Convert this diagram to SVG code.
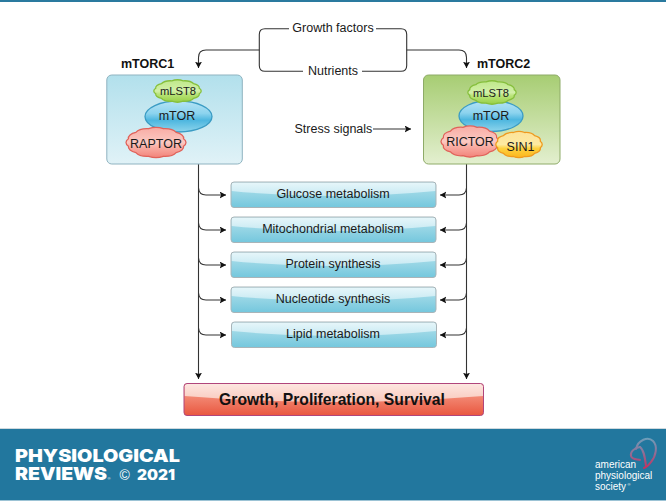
<svg xmlns="http://www.w3.org/2000/svg" xmlns:xlink="http://www.w3.org/1999/xlink" width="666" height="501" viewBox="0 0 666 501">
<style>
text{font-family:"Liberation Sans",Arial,sans-serif;fill:#1a1a1a}
.lbl{font-size:12.500px}
.mid{text-anchor:middle}
.small{font-size:11.200px}
.title{font-size:12.500px;font-weight:bold;fill:#111}
.link{fill:none;stroke:#333;stroke-width:1.100}
.arrow{marker-end:url(#tip)}
.edge{vector-effect:non-scaling-stroke;stroke-width:1.300}
.foot{fill:#fff;font-weight:900;font-family:Inter,"DejaVu Sans",sans-serif}
.apsmark{fill:none;stroke:url(#logoA);stroke-width:2;stroke-linecap:round}
.aps{font-size:10px;fill:#fff}
</style>
<defs>
<marker id="tip" markerWidth="8" markerHeight="8" refX="6.400" refY="3.500" orient="auto" markerUnits="userSpaceOnUse">
<path d="M0 0L6.500 3.500L0 7L1.500 3.500Z" fill="#111"/>
</marker>
<linearGradient id="panelBlue" x1="0" y1="0" x2="0" y2="1"><stop offset="0" stop-color="#b2e0ec"/><stop offset="1" stop-color="#e0f2f7"/></linearGradient>
<linearGradient id="panelGreen" x1="0" y1="0" x2="0" y2="1"><stop offset="0" stop-color="#a7cd73"/><stop offset="1" stop-color="#e3efcf"/></linearGradient>
<linearGradient id="barBase" x1="0" y1="0" x2="0" y2="1"><stop offset="0" stop-color="#b5e2ec"/><stop offset="1" stop-color="#74c7dd"/></linearGradient>
<linearGradient id="barGloss" x1="0" y1="0" x2="0" y2="1"><stop offset="0" stop-color="#e6f6fa"/><stop offset="1" stop-color="#c6e9f2"/></linearGradient>
<linearGradient id="redBase" x1="0" y1="0" x2="0" y2="1"><stop offset="0" stop-color="#f9a997"/><stop offset="1" stop-color="#e9573f"/></linearGradient>
<linearGradient id="redGloss" x1="0" y1="0" x2="0" y2="1"><stop offset="0" stop-color="#fde6e0"/><stop offset="1" stop-color="#f9c8bc"/></linearGradient>
<linearGradient id="cGreen" x1="0" y1="0" x2="0" y2="1"><stop offset="0" stop-color="#bfe88a"/><stop offset=".5" stop-color="#d2f0a8"/><stop offset=".65" stop-color="#b8e377"/><stop offset="1" stop-color="#97d046"/></linearGradient>
<linearGradient id="cBlue" x1="0" y1="0" x2="0" y2="1"><stop offset="0" stop-color="#b5e3f4"/><stop offset=".4" stop-color="#8cd3ee"/><stop offset=".62" stop-color="#4db6df"/><stop offset="1" stop-color="#8ed5ec"/></linearGradient>
<linearGradient id="cRed" x1="0" y1="0" x2="0" y2="1"><stop offset="0" stop-color="#f8aca4"/><stop offset=".5" stop-color="#fbc9c2"/><stop offset=".65" stop-color="#f9aea5"/><stop offset="1" stop-color="#f2837a"/></linearGradient>
<linearGradient id="cGold" x1="0" y1="0" x2="0" y2="1"><stop offset="0" stop-color="#fce39a"/><stop offset=".5" stop-color="#fdeaa0"/><stop offset=".65" stop-color="#fdd23f"/><stop offset="1" stop-color="#fbb51d"/></linearGradient>
<linearGradient id="logoA" gradientUnits="userSpaceOnUse" x1="0" y1="437" x2="0" y2="468"><stop offset="0" stop-color="#6aa2bd"/><stop offset=".5" stop-color="#8f7097"/><stop offset="1" stop-color="#c5305f"/></linearGradient>
<path id="cloud" class="edge" d="M.889 .238A.4 .4 0 0 1 .65 .65A.4 .4 0 0 1 .238 .889A.4 .4 0 0 1 -.238 .889A.4 .4 0 0 1 -.65 .65A.4 .4 0 0 1 -.889 .238A.4 .4 0 0 1 -.889 -.238A.4 .4 0 0 1 -.65 -.65A.4 .4 0 0 1 -.238 -.889A.4 .4 0 0 1 .238 -.889A.4 .4 0 0 1 .65 -.65A.4 .4 0 0 1 .889 -.238A.4 .4 0 0 1 .889 .238Z"/>
<g id="bar">
<rect x="0" y="0" width="205" height="25.500" rx="3" fill="url(#barBase)"/>
<path d="M.5 9Q102 19 204.500 9V3Q204.500 .5 202 .5H3Q.5 .5 .5 3Z" fill="url(#barGloss)"/>
<rect x="0" y="0" width="205" height="25.500" rx="3" fill="none" stroke="#a9b4b8"/>
</g>
</defs>

<rect width="666" height="501" fill="#fff"/>
<rect width="666" height="2" fill="#2a7a9f"/>

<g id="connectors">
<path class="link" d="M289 28.700H265Q259.300 28.700 259.300 34.500V65.500Q259.300 71.300 265 71.300H303"/>
<path class="link arrow" d="M259.300 50H206Q198.500 50 198.500 57.500V68"/>
<path class="link" d="M376 28.700H401Q406.700 28.700 406.700 34.500V65.500Q406.700 71.300 401 71.300H362"/>
<path class="link arrow" d="M406.700 50H459Q466.500 50 466.500 57.500V68"/>
<path class="link arrow" d="M373 129H411"/>
<path class="link arrow" d="M198.500 164V379"/>
<path class="link arrow" d="M466.500 164V379"/>
<path class="link arrow" d="M198.500 188Q199 195 206 195H226"/>
<path class="link arrow" d="M198.500 223Q199 230 206 230H226"/>
<path class="link arrow" d="M198.500 258Q199 265 206 265H226"/>
<path class="link arrow" d="M198.500 293Q199 300 206 300H226"/>
<path class="link arrow" d="M198.500 328Q199 335 206 335H226"/>
<path class="link arrow" d="M466.500 188Q466 195 459 195H440"/>
<path class="link arrow" d="M466.500 223Q466 230 459 230H440"/>
<path class="link arrow" d="M466.500 258Q466 265 459 265H440"/>
<path class="link arrow" d="M466.500 293Q466 300 459 300H440"/>
<path class="link arrow" d="M466.500 328Q466 335 459 335H440"/>
</g>

<g id="growth-factors"><text class="lbl mid" x="333" y="32">Growth factors</text></g>
<g id="nutrients"><text class="lbl mid" x="333" y="75">Nutrients</text></g>
<g id="stress-signals"><text class="lbl" x="294.500" y="133">Stress signals</text></g>

<g id="mtorc1">
<text class="title" x="121" y="68">mTORC1</text>
<rect x="106.800" y="75" width="135.500" height="89" rx="5" fill="url(#panelBlue)" stroke="#8fb3c0"/>
<ellipse cx="178.500" cy="116.500" rx="33.500" ry="15.500" fill="url(#cBlue)" stroke="#3b9cc4" stroke-width="1.300"/>
<text class="lbl mid" x="177" y="120">mTOR</text>
<use href="#cloud" transform="translate(177.500 91) scale(24.500 11.500)" fill="url(#cGreen)" stroke="#86bf3c"/>
<text class="small mid" x="178" y="95.300">mLST8</text>
<use href="#cloud" transform="translate(156 142.500) scale(31 15.500)" fill="url(#cRed)" stroke="#e0625a"/>
<text class="lbl mid" x="156" y="148">RAPTOR</text>
</g>

<g id="mtorc2">
<text class="title" x="477" y="68">mTORC2</text>
<rect x="423.500" y="75" width="136.500" height="89" rx="5" fill="url(#panelGreen)" stroke="#8eab68"/>
<ellipse cx="491" cy="116" rx="32" ry="15.500" fill="url(#cBlue)" stroke="#3b9cc4" stroke-width="1.300"/>
<text class="lbl mid" x="491" y="120">mTOR</text>
<use href="#cloud" transform="translate(492 92.500) scale(25 12)" fill="url(#cGreen)" stroke="#86bf3c"/>
<text class="small mid" x="491" y="96.500">mLST8</text>
<use href="#cloud" transform="translate(470 141.500) scale(30 16)" fill="url(#cRed)" stroke="#e0625a"/>
<text class="lbl mid" x="470" y="146">RICTOR</text>
<use href="#cloud" transform="translate(519 144.500) scale(24 13.500)" fill="url(#cGold)" stroke="#ef9a1e"/>
<text class="lbl mid" x="520.500" y="150.500">SIN1</text>
</g>

<g id="glucose"><use href="#bar" x="231" y="182"/><text class="lbl mid" x="333" y="198">Glucose metabolism</text></g>
<g id="mitochondrial"><use href="#bar" x="231" y="217"/><text class="lbl mid" x="333" y="233">Mitochondrial metabolism</text></g>
<g id="protein"><use href="#bar" x="231" y="252"/><text class="lbl mid" x="333" y="268">Protein synthesis</text></g>
<g id="nucleotide"><use href="#bar" x="231" y="287"/><text class="lbl mid" x="333" y="303">Nucleotide synthesis</text></g>
<g id="lipid"><use href="#bar" x="231.500" y="322"/><text class="lbl mid" x="333" y="338">Lipid metabolism</text></g>

<g id="outcome">
<rect x="184" y="383.500" width="299.500" height="32" rx="3" fill="url(#redBase)"/>
<path d="M184.500 396Q333 408 483 396V386.500Q483 384 480.500 384H187Q184.500 384 184.500 386.500Z" fill="url(#redGloss)"/>
<rect x="184" y="383.500" width="299.500" height="32" rx="3" fill="none" stroke="#b0457c"/>
<text class="mid" x="332" y="405" style="font-size:15.700px;font-weight:bold;fill:#111">Growth, Proliferation, Survival</text>
</g>

<g id="footer">
<rect y="429" width="666" height="72" fill="#22779e"/>
<rect y="428" width="666" height="1" fill="#cfd9de"/>
<rect y="500" width="666" height="1" fill="#9cc3d5"/>
<text class="foot" x="15" y="462" style="font-size:18px" textLength="165" lengthAdjust="spacingAndGlyphs">PHYSIOLOGICAL</text>
<text class="foot" x="15" y="480" style="font-size:18px" textLength="92" lengthAdjust="spacingAndGlyphs">REVIEWS</text>
<text x="107.500" y="480" style="font-size:4px;fill:#fff">®</text>
<text x="119.500" y="480" style="font-size:14px;fill:#fff">©</text>
<text class="foot" x="137" y="480" style="font-size:14px" textLength="38" lengthAdjust="spacingAndGlyphs">2021</text>
<path class="apsmark" d="M636 449C638 440 648 436 653 441C658 446 656 456 651 462C649 465 647 467 644 468"/>
<path class="apsmark" d="M640 447C634 448 630 452 631 456C632 460 637 459 640 460"/>
<path class="apsmark" d="M640 447C644 450 645 458 646 466"/>
<text class="aps" x="595" y="468">american</text>
<text class="aps" x="595" y="479">physiological</text>
<text class="aps" x="595" y="490">society</text>
<text x="627.500" y="486" style="font-size:4px;fill:#fff">®</text>
</g>
</svg>
